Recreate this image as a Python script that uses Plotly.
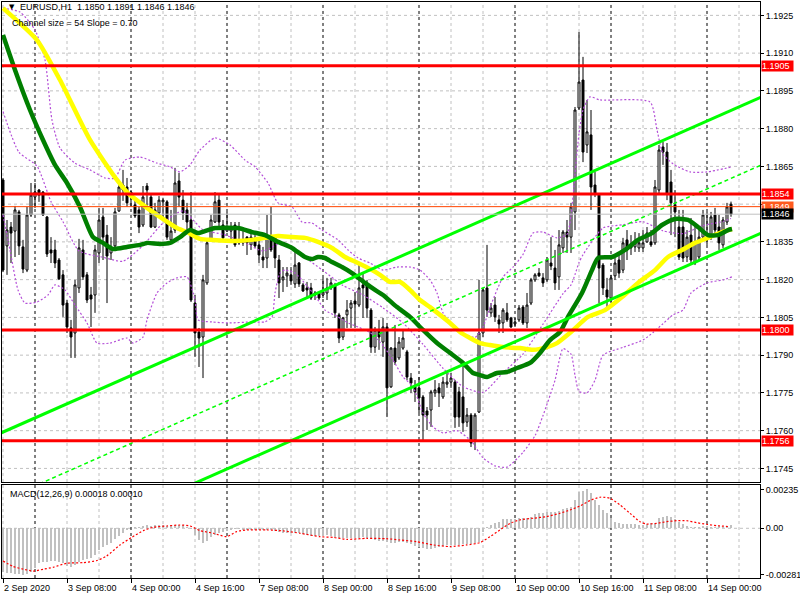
import plotly.graph_objects as go

# ---------------- data ----------------
bar_index = list(range(183))

opens = [1.18596,1.18334,1.18409,1.18393,1.18469,1.18330,1.18238,1.18457,1.18528,1.18556,
1.18548,1.18449,1.18318,1.18318,1.18278,1.18219,1.18107,1.18008,1.17988,1.18167,
1.18318,1.18219,1.18139,1.18139,1.18306,1.18449,1.18377,1.18306,1.18334,1.18473,
1.18576,1.18568,1.18532,1.18497,1.18477,1.18417,1.18572,1.18528,1.18409,1.18465,
1.18509,1.18509,1.18358,1.18397,1.18592,1.18516,1.18477,1.18437,1.18107,1.17992,
1.17972,1.18187,1.18358,1.18429,1.18516,1.18417,1.18393,1.18393,1.18417,1.18346,
1.18346,1.18369,1.18338,1.18362,1.18338,1.18290,1.18286,1.18369,1.18366,1.18278,
1.18199,1.18215,1.18219,1.18183,1.18266,1.18179,1.18167,1.18167,1.18147,1.18147,
1.18139,1.18147,1.18167,1.18179,1.18060,1.17972,1.18060,1.18087,1.18115,1.18099,
1.18179,1.18179,1.18079,1.17932,1.18000,1.17952,1.18012,1.17774,1.17928,1.17889,
1.17928,1.17913,1.17809,1.17774,1.17770,1.17734,1.17678,1.17682,1.17750,1.17770,
1.17734,1.17785,1.17793,1.17793,1.17754,1.17734,1.17634,1.17662,1.17563,1.17674,
1.17988,1.18167,1.18068,1.18099,1.18040,1.18028,1.18068,1.18048,1.18024,1.18040,
1.18091,1.18028,1.18107,1.18199,1.18226,1.18207,1.18199,1.18266,1.18246,1.18211,
1.18326,1.18389,1.18369,1.18469,1.18882,1.18993,1.18735,1.18775,1.18576,1.18536,
1.18258,1.18159,1.18127,1.18215,1.18278,1.18238,1.18358,1.18338,1.18330,1.18326,
1.18326,1.18350,1.18350,1.18346,1.18556,1.18727,1.18707,1.18588,1.18497,1.18409,
1.18409,1.18290,1.18377,1.18266,1.18290,1.18369,1.18358,1.18366,1.18457,1.18409,
1.18338,1.18429,1.18500]

highs = [1.18604,1.18437,1.18429,1.18493,1.18477,1.18358,1.18489,1.18584,1.18584,1.18560,
1.18552,1.18453,1.18369,1.18358,1.18286,1.18238,1.18119,1.18040,1.18199,1.18362,
1.18358,1.18230,1.18171,1.18338,1.18485,1.18485,1.18417,1.18369,1.18485,1.18596,
1.18636,1.18604,1.18556,1.18516,1.18489,1.18572,1.18584,1.18540,1.18505,1.18532,
1.18524,1.18516,1.18477,1.18644,1.18624,1.18556,1.18505,1.18548,1.18139,1.18008,
1.18219,1.18358,1.18457,1.18548,1.18536,1.18437,1.18469,1.18429,1.18429,1.18429,
1.18409,1.18373,1.18389,1.18377,1.18358,1.18330,1.18457,1.18489,1.18369,1.18298,
1.18250,1.18250,1.18250,1.18318,1.18270,1.18187,1.18191,1.18187,1.18155,1.18151,
1.18207,1.18207,1.18207,1.18187,1.18068,1.18052,1.18119,1.18119,1.18151,1.18266,
1.18226,1.18199,1.18087,1.18012,1.18040,1.18048,1.18028,1.17932,1.18020,1.17972,
1.18000,1.17921,1.17829,1.17801,1.17813,1.17742,1.17694,1.17762,1.17801,1.17789,
1.17813,1.17829,1.17829,1.17801,1.17774,1.17873,1.17690,1.17670,1.17670,1.18199,
1.18167,1.18338,1.18107,1.18131,1.18060,1.18087,1.18107,1.18052,1.18048,1.18099,
1.18099,1.18147,1.18207,1.18226,1.18246,1.18226,1.18290,1.18369,1.18318,1.18397,
1.18397,1.18437,1.18505,1.18886,1.19184,1.19085,1.18914,1.18874,1.18628,1.18544,
1.18266,1.18207,1.18219,1.18286,1.18306,1.18366,1.18397,1.18377,1.18389,1.18385,
1.18397,1.18409,1.18397,1.18596,1.18735,1.18747,1.18743,1.18636,1.18556,1.18477,
1.18477,1.18397,1.18445,1.18417,1.18397,1.18477,1.18469,1.18469,1.18485,1.18457,
1.18449,1.18505,1.18510]

lows = [1.18230,1.18219,1.18266,1.18290,1.18298,1.18226,1.18230,1.18449,1.18485,1.18509,
1.18453,1.18290,1.18266,1.18246,1.18199,1.18052,1.17988,1.17889,1.17889,1.18147,
1.18199,1.18107,1.18012,1.18068,1.18266,1.18278,1.18107,1.18278,1.18318,1.18469,
1.18513,1.18489,1.18489,1.18445,1.18385,1.18409,1.18489,1.18405,1.18405,1.18449,
1.18449,1.18358,1.18346,1.18385,1.18489,1.18437,1.18397,1.18111,1.17893,1.17853,
1.17809,1.18179,1.18350,1.18425,1.18405,1.18350,1.18389,1.18350,1.18330,1.18338,
1.18334,1.18298,1.18318,1.18326,1.18266,1.18246,1.18246,1.18310,1.18246,1.18127,
1.18151,1.18171,1.18179,1.18167,1.18171,1.18151,1.18131,1.18119,1.18119,1.18119,
1.18127,1.18119,1.18159,1.18048,1.17948,1.17960,1.18008,1.18008,1.18008,1.18091,
1.18048,1.18048,1.17909,1.17909,1.17921,1.17893,1.17654,1.17770,1.17861,1.17881,
1.17921,1.17801,1.17750,1.17714,1.17670,1.17563,1.17603,1.17615,1.17734,1.17694,
1.17726,1.17770,1.17770,1.17611,1.17615,1.17595,1.17615,1.17535,1.17523,1.17670,
1.17972,1.18052,1.18052,1.18032,1.17988,1.17988,1.18032,1.18008,1.18012,1.18032,
1.18020,1.18008,1.18099,1.18191,1.18211,1.18171,1.18191,1.18238,1.18159,1.18159,
1.18306,1.18306,1.18306,1.18397,1.18874,1.18667,1.18703,1.18477,1.18528,1.18107,
1.18139,1.18091,1.18107,1.18199,1.18207,1.18226,1.18278,1.18298,1.18310,1.18310,
1.18310,1.18346,1.18330,1.18338,1.18544,1.18656,1.18516,1.18377,1.18369,1.18278,
1.18270,1.18270,1.18266,1.18258,1.18278,1.18358,1.18338,1.18358,1.18377,1.18318,
1.18326,1.18417,1.18450]

closes = [1.18238,1.18397,1.18385,1.18477,1.18334,1.18242,1.18457,1.18536,1.18548,1.18536,
1.18457,1.18302,1.18306,1.18266,1.18203,1.18099,1.18012,1.17972,1.18179,1.18326,
1.18211,1.18119,1.18123,1.18318,1.18437,1.18369,1.18294,1.18326,1.18469,1.18568,
1.18556,1.18505,1.18548,1.18453,1.18409,1.18528,1.18556,1.18409,1.18477,1.18516,
1.18516,1.18369,1.18393,1.18584,1.18528,1.18465,1.18429,1.18119,1.17988,1.17968,
1.18199,1.18346,1.18437,1.18509,1.18429,1.18366,1.18405,1.18409,1.18338,1.18358,
1.18358,1.18346,1.18369,1.18334,1.18298,1.18278,1.18377,1.18318,1.18286,1.18187,
1.18211,1.18226,1.18195,1.18258,1.18183,1.18155,1.18159,1.18127,1.18139,1.18127,
1.18151,1.18167,1.18187,1.18068,1.17968,1.18048,1.18079,1.18107,1.18103,1.18167,
1.18167,1.18087,1.17932,1.18000,1.17972,1.18012,1.17770,1.17928,1.17873,1.17952,
1.17968,1.17813,1.17789,1.17754,1.17730,1.17662,1.17662,1.17754,1.17762,1.17750,
1.17793,1.17793,1.17809,1.17654,1.17654,1.17631,1.17662,1.17551,1.17662,1.17988,
1.18159,1.18079,1.18087,1.18052,1.18024,1.18079,1.18040,1.18012,1.18032,1.18087,
1.18028,1.18099,1.18199,1.18219,1.18215,1.18187,1.18278,1.18254,1.18187,1.18338,
1.18389,1.18369,1.18489,1.18874,1.18985,1.18707,1.18787,1.18568,1.18544,1.18246,
1.18167,1.18131,1.18207,1.18266,1.18226,1.18346,1.18318,1.18326,1.18346,1.18346,
1.18346,1.18385,1.18338,1.18568,1.18715,1.18707,1.18544,1.18505,1.18469,1.18290,
1.18286,1.18369,1.18278,1.18346,1.18369,1.18457,1.18369,1.18449,1.18397,1.18346,
1.18437,1.18489,1.18460]

yellow_x = [0,8.5,14.25,21.75,28.5,31.25,35,38.5,43.5,46,49.25,52.5,58,62.25,65.5,68.75,72.25,75.5,78.75,82.25,
85.5,88.75,92.25,94.25,96.75,99.25,101.75,104.25,106.75,109.25,111.75,114.25,116.75,119.25,121.75,125,129.25,132.5,136,138.5,
142,146.25,150.5,154.75,158.75,163,166.25,169.75,173,176.25,179.75,182.25]
yellow_ma = [1.19279,1.19152,1.18993,1.18755,1.18596,1.18544,1.18497,1.18457,1.18405,1.18389,
1.18362,1.18358,1.18354,1.18358,1.18366,1.18373,1.18369,1.18366,1.18350,1.18326,
1.18290,1.18266,1.18238,1.18219,1.18191,1.18191,1.18159,1.18119,1.18091,1.18060,
1.18028,1.17992,1.17968,1.17948,1.17940,1.17932,1.17928,1.17921,1.17932,1.17948,
1.17992,1.18052,1.18079,1.18131,1.18187,1.18238,1.18290,1.18318,1.18346,1.18366,
1.18389,1.18401]

green_x = [0,3,6.75,10,13,16,19.25,22.5,25,27.5,31,34.25,36,39.25,41.75,44.25,46.75,48.75,51.25,53,
58.75,62.25,65.5,68.75,72.25,75.5,77.25,78.75,80.5,82.25,84.75,87.25,90.5,93,95,98.5,101.75,105,108.5,111.75,
115,117.5,119.25,121,123.5,126,128.5,131.75,134.25,136.75,139.25,141.25,144.75,147.25,148.75,152.25,155.5,158.75,162.25,164.75,
168,171.25,173.75,176.25,178.75,181.25,182.25]
green_ma = [1.19172,1.19033,1.18874,1.18755,1.18656,1.18584,1.18489,1.18369,1.18346,1.18322,
1.18330,1.18338,1.18346,1.18342,1.18346,1.18369,1.18397,1.18385,1.18397,1.18405,
1.18405,1.18389,1.18377,1.18350,1.18326,1.18290,1.18282,1.18290,1.18286,1.18270,
1.18250,1.18226,1.18187,1.18159,1.18139,1.18091,1.18052,1.18000,1.17948,1.17909,
1.17869,1.17829,1.17821,1.17813,1.17829,1.17833,1.17849,1.17869,1.17909,1.17960,
1.17992,1.18052,1.18147,1.18238,1.18286,1.18290,1.18318,1.18358,1.18385,1.18417,
1.18441,1.18437,1.18409,1.18377,1.18377,1.18397,1.18401]

band_up_x = [0,4.25,8,10.5,12.25,14.25,18,21.75,25.5,28,30.5,34.25,38.5,41.75,44.25,46.75,49.25,53,56.75,60.5,
63,66.25,68.75,72.25,74.75,77.25,79.75,83.75,86.25,88.75,91.75,95,98.5,101.75,104.25,106.75,108.5,110,112.5,114.25,
116,118,120,122,125,127.5,130,132.5,135,138.5,141,142,143,144,145,146.75,149.25,161.75,163.5,165,
167.5,171.75,176,182.25]
band_up = [1.19279,1.19263,1.19192,1.19073,1.18834,1.18723,1.18663,1.18636,1.18604,1.18604,
1.18675,1.18687,1.18663,1.18648,1.18628,1.18656,1.18715,1.18763,1.18735,1.18675,
1.18648,1.18584,1.18505,1.18489,1.18429,1.18425,1.18397,1.18358,1.18318,1.18286,
1.18266,1.18238,1.18250,1.18250,1.18238,1.18199,1.18147,1.18068,1.18012,1.17988,
1.17980,1.17970,1.18012,1.18100,1.18210,1.18250,1.18300,1.18385,1.18389,1.18366,
1.18380,1.18454,1.18620,1.18780,1.18874,1.18926,1.18914,1.18906,1.18795,1.18700,
1.18660,1.18628,1.18628,1.18648]

band_mid_x = [0,4,8.5,12,15,19,25,30,35,40,45,50,55,60,65,70,75,80,85,90,
95,100,105,110,115,120,125,130,135,140,142,143,144,145,150,155,160,165,170,175,180,182]
band_mid = [1.18868,1.18706,1.18651,1.18510,1.18430,1.18314,1.18289,1.18273,1.18336,1.18425,
1.18473,1.18398,1.18380,1.18350,1.18314,1.18348,1.18294,1.18236,1.18177,1.18139,
1.18088,1.18028,1.17943,1.17848,1.17775,1.17752,1.17830,1.17904,1.18023,1.18144,
1.18179,1.18220,1.18268,1.18299,1.18405,1.18418,1.18430,1.18394,1.18383,1.18415,
1.18431,1.18443]

band_lo_x = [0,1.75,3.75,5.5,8.5,11.25,13,15.5,18,21,23.5,26.75,31,32.5,35,36,38.5,41,43.5,46,
48,48.75,52.25,56.25,62.25,65.5,67.25,68,69.25,70.5,73,76.25,78.75,80.5,83.75,86.25,88.75,91.75,95,97.5,
100,102.5,105,107.5,110,113.5,117,120,123,126,130,133,135,138,140,142,143,144,146,148,
150,155,160,162.5,165,167.5,170,172,176,180,182.25]
band_lo = [1.18457,1.18318,1.18159,1.18107,1.18111,1.18139,1.18179,1.18159,1.18099,1.18028,
1.17948,1.17948,1.17968,1.17948,1.17972,1.18040,1.18147,1.18187,1.18207,1.18211,
1.18119,1.18040,1.18032,1.18028,1.18032,1.18032,1.18052,1.18147,1.18226,1.18238,
1.18226,1.18171,1.18119,1.18079,1.18052,1.18028,1.18012,1.17990,1.17938,1.17881,
1.17814,1.17774,1.17670,1.17615,1.17591,1.17600,1.17560,1.17492,1.17460,1.17455,
1.17514,1.17580,1.17660,1.17800,1.17926,1.17904,1.17820,1.17756,1.17750,1.17800,
1.17900,1.17931,1.17960,1.17990,1.18025,1.18060,1.18079,1.18147,1.18187,1.18199,
1.18211]

channel_x = [-0.5, 189.5]
channel_upper = [1.17591, 1.18925]
channel_middle = [1.17321, 1.18655]
channel_lower = [1.17051, 1.18385]

levels = [1.1905, 1.1854, 1.1800, 1.1756]
level_labels = ["1.1905", "1.1854", "1.1800", "1.1756"]
ask_price, ask_label = 1.1849, "1.1849"
bid_price, bid_label = 1.1846, "1.1846"

price_ticks = [1.1745,1.1760,1.1775,1.1790,1.1805,1.1820,1.1835,1.1850,1.1865,1.1880,1.1895,1.1910,1.1925]
price_tick_labels = ["1.1745","1.1760","1.1775","1.1790","1.1805","1.1820","1.1835","","1.1865","1.1880","1.1895","1.1910","1.1925"]

macd_hist = [-0.00263,-0.00269,-0.00273,-0.00277,-0.00279,-0.00281,-0.00277,-0.00263,-0.00242,-0.00212,
-0.00202,-0.00202,-0.00200,-0.00200,-0.00202,-0.00208,-0.00228,-0.00236,-0.00222,-0.00202,
-0.00192,-0.00188,-0.00182,-0.00162,-0.00131,-0.00111,-0.00101,-0.00087,-0.00067,-0.00046,
-0.00026,-0.00010,0.00000,0.00006,0.00010,0.00014,0.00018,0.00016,0.00018,0.00020,
0.00018,0.00016,0.00018,0.00022,0.00022,0.00018,0.00010,-0.00006,-0.00040,-0.00071,
-0.00087,-0.00075,-0.00055,-0.00040,-0.00030,-0.00020,-0.00014,-0.00010,-0.00006,-0.00006,
-0.00008,-0.00008,-0.00010,-0.00010,-0.00012,-0.00012,-0.00010,-0.00012,-0.00016,-0.00024,
-0.00026,-0.00028,-0.00028,-0.00026,-0.00030,-0.00034,-0.00040,-0.00044,-0.00044,-0.00046,
-0.00044,-0.00042,-0.00044,-0.00050,-0.00058,-0.00060,-0.00058,-0.00056,-0.00058,-0.00056,
-0.00054,-0.00058,-0.00064,-0.00070,-0.00076,-0.00080,-0.00083,-0.00087,-0.00091,-0.00081,
-0.00081,-0.00089,-0.00097,-0.00105,-0.00111,-0.00121,-0.00127,-0.00125,-0.00119,-0.00115,
-0.00107,-0.00103,-0.00099,-0.00101,-0.00099,-0.00095,-0.00093,-0.00093,-0.00087,-0.00081,
-0.00020,0.00010,0.00020,0.00034,0.00040,0.00055,0.00055,0.00055,0.00057,0.00061,
0.00061,0.00065,0.00071,0.00085,0.00091,0.00095,0.00101,0.00101,0.00097,0.00107,
0.00115,0.00121,0.00131,0.00172,0.00218,0.00228,0.00235,0.00212,0.00172,0.00141,
0.00111,0.00091,0.00061,0.00040,0.00034,0.00026,0.00026,0.00026,0.00026,0.00020,
0.00020,0.00024,0.00030,0.00034,0.00061,0.00071,0.00075,0.00071,0.00055,0.00040,
0.00026,0.00014,0.00006,0.00006,0.00010,0.00014,0.00014,0.00010,0.00010,0.00014,
0.00010,0.00016,0.00018]

signal_x = [0,2.6,5.1,7.6,10.1,12.6,15.9,20.1,23.4,25.9,29.25,32.2,35.1,37.6,40.9,44.25,46.75,49.25,52.6,55.9,
58.4,60.9,65.9,70.1,74.25,79.25,82.6,85.9,90.9,95.9,99.25,103.4,107.6,111.75,115.9,119.25,121.75,124.25,126.75,129.25,
132.6,135.9,139.25,141.75,144.25,146.75,149.25,151.75,154.25,156.75,159.25,160.9,163.4,165.9,168.4,170.9,173.4,175.9,178.4,181.75]
macd_signal = [-0.00198,-0.00232,-0.00248,-0.00259,-0.00248,-0.00236,-0.00212,-0.00208,-0.00196,-0.00168,
-0.00101,-0.00055,-0.00014,0.00006,0.00014,0.00020,0.00014,-0.00014,-0.00030,-0.00051,
-0.00020,-0.00010,-0.00010,-0.00016,-0.00030,-0.00051,-0.00055,-0.00067,-0.00061,-0.00063,
-0.00071,-0.00081,-0.00101,-0.00111,-0.00101,-0.00087,-0.00051,-0.00010,0.00030,0.00051,
0.00061,0.00071,0.00091,0.00111,0.00135,0.00168,0.00188,0.00182,0.00141,0.00091,
0.00040,0.00026,0.00030,0.00040,0.00046,0.00046,0.00034,0.00024,0.00016,0.00010]

macd_ticks = [0.00235, 0.0, -0.00281]
macd_tick_labels = ["0.00235", "0.00", "-0.00281"]

time_tick_pos = [0,16,32,48,64,80,96,112,128,144,160,176]
time_tick_labels = ["2 Sep 2020","3 Sep 08:00","4 Sep 00:00","4 Sep 16:00","7 Sep 08:00","8 Sep 00:00",
                    "8 Sep 16:00","9 Sep 08:00","10 Sep 00:00","10 Sep 16:00","11 Sep 08:00","14 Sep 00:00"]
grid_pos = [0,8,16,24,32,40,48,56,64,72,80,88,96,104,112,120,128,136,144,152,160,168,176,184]
day_separators = [8,32,56,80,104,128,152,176]

title_text = "EURUSD,H1  1.1850 1.1891 1.1846 1.1846"
channel_text = "Channel size = 54 Slope = 0.70"
macd_text = "MACD(12,26,9) 0.00018 0.00010"

# ---------------- figure ----------------
FONT = "Liberation Sans, Arial, sans-serif"
FS = 9
MAIN_DOM = [0.1667, 1.0]
MACD_DOM = [0.0, 0.1615]

fig = go.Figure()

def line_trace(xs, ys, color, width, dash="solid", shape="linear", axis=("x", "y")):
    return go.Scatter(x=xs, y=ys, mode="lines", xaxis=axis[0], yaxis=axis[1],
                      line=dict(color=color, width=width, dash=dash, shape=shape, smoothing=0.6),
                      hoverinfo="skip", showlegend=False)

purple = "#B44FD8"
for xs, ys in [(band_up_x, band_up), (band_mid_x, band_mid), (band_lo_x, band_lo)]:
    fig.add_trace(line_trace(xs, ys, purple, 1.2, dash="2px,2px", shape="spline"))

fig.add_trace(line_trace(yellow_x, yellow_ma, "#FFFF00", 4.5, shape="spline"))
fig.add_trace(line_trace(green_x, green_ma, "#007F00", 4.5, shape="spline"))

fig.add_trace(go.Candlestick(
    x=bar_index, open=opens, high=highs, low=lows, close=closes,
    xaxis="x", yaxis="y", whiskerwidth=0,
    increasing=dict(line=dict(color="black", width=1), fillcolor="white"),
    decreasing=dict(line=dict(color="black", width=1), fillcolor="black"),
    hoverinfo="skip", showlegend=False))

lime = "#00FF00"
fig.add_trace(line_trace(channel_x, channel_upper, lime, 3))
fig.add_trace(line_trace(channel_x, channel_lower, lime, 3))
fig.add_trace(line_trace(channel_x, channel_middle, lime, 1.5, dash="4px,3px"))

fig.add_trace(go.Bar(x=bar_index, y=macd_hist, xaxis="x2", yaxis="y2", width=0.55,
                     marker=dict(color="#C0C0C0", line=dict(width=0)),
                     hoverinfo="skip", showlegend=False))
fig.add_trace(line_trace(signal_x, macd_signal, "#FF0000", 1.2, dash="2px,2px", shape="spline", axis=("x2", "y2")))

shapes = []
for p in price_ticks:
    shapes.append(dict(type="line", xref="x domain", yref="y", x0=0, x1=1, y0=p, y1=p,
                       line=dict(color="#C0C0C0", width=1, dash="3px,3px"), layer="below"))
shapes.append(dict(type="line", xref="x2 domain", yref="y2", x0=0, x1=1, y0=0, y1=0,
                   line=dict(color="#C0C0C0", width=1, dash="3px,3px"), layer="below"))
for g in grid_pos:
    is_day = g in day_separators
    col = "#000000" if is_day else "#C0C0C0"
    for yr in ["y domain", "y2 domain"]:
        shapes.append(dict(type="line", xref="x", yref=yr, x0=g, x1=g, y0=0, y1=1,
                           line=dict(color=col, width=1, dash="3px,3px"), layer="below"))
for lv in levels:
    shapes.append(dict(type="line", xref="x domain", yref="y", x0=0, x1=1, y0=lv, y1=lv,
                       line=dict(color="#FF0000", width=3), layer="above"))
shapes.append(dict(type="line", xref="x domain", yref="y", x0=0, x1=1, y0=ask_price, y1=ask_price,
                   line=dict(color="#FF4500", width=1), layer="above"))
shapes.append(dict(type="line", xref="x domain", yref="y", x0=0, x1=1, y0=bid_price, y1=bid_price,
                   line=dict(color="#C0C0C0", width=1), layer="above"))

annotations = []
def price_box(y, text, bg):
    annotations.append(dict(xref="paper", yref="y", x=1, y=y, xanchor="left", yanchor="middle",
                            xshift=1, text=text, showarrow=False, bgcolor=bg,
                            font=dict(family=FONT, size=FS, color="white"),
                            width=31, height=10, borderpad=0, align="left"))
for lv, lb in zip(levels, level_labels):
    price_box(lv, lb, "#FF0000")
price_box(ask_price, ask_label, "#FF5A1E")
price_box(bid_price, bid_label, "#000000")

for pos, lab in zip(time_tick_pos, time_tick_labels):
    annotations.append(dict(xref="x2", yref="paper", x=pos, y=0, xanchor="left", yanchor="middle",
                            xshift=-1, yshift=-10, text=lab, showarrow=False,
                            font=dict(family=FONT, size=FS, color="black")))

annotations.append(dict(xref="paper", yref="paper", x=0.006, y=0.9905, xanchor="left", yanchor="middle",
                        text="▼", showarrow=False, font=dict(family="DejaVu Sans", size=7, color="black")))
annotations.append(dict(xref="paper", yref="paper", x=0.021, y=0.9905, xanchor="left", yanchor="middle",
                        text=title_text, showarrow=False, font=dict(family=FONT, size=FS, color="black")))
annotations.append(dict(xref="paper", yref="paper", x=0.0105, y=0.964, xanchor="left", yanchor="middle",
                        text=channel_text, showarrow=False, font=dict(family=FONT, size=FS, color="black")))
annotations.append(dict(xref="paper", yref="paper", x=0.008, y=0.146, xanchor="left", yanchor="middle",
                        text=macd_text, showarrow=False, font=dict(family=FONT, size=FS, color="black")))

axis_common = dict(showline=True, linecolor="black", linewidth=1, mirror=True,
                   showgrid=False, zeroline=False, automargin=False)

fig.update_layout(
    width=800, height=600,
    margin=dict(l=2, r=40, t=2, b=22, pad=0),
    paper_bgcolor="white", plot_bgcolor="white",
    showlegend=False, bargap=0,
    font=dict(family=FONT, size=FS, color="black"),
    xaxis=dict(domain=[0, 1], range=[-0.25, 189.25], anchor="y", showticklabels=False,
               ticks="", rangeslider=dict(visible=False), **axis_common),
    xaxis2=dict(domain=[0, 1], range=[-0.25, 189.25], anchor="y2", matches="x",
                tickmode="array", tickvals=time_tick_pos, ticks="outside", ticklen=4,
                tickcolor="black", showticklabels=False, **axis_common),
    yaxis=dict(domain=MAIN_DOM, range=[1.173961, 1.193031], anchor="x", side="right",
               tickmode="array", tickvals=price_ticks, ticktext=price_tick_labels,
               ticks="outside", ticklen=3, tickcolor="black",
               tickfont=dict(family=FONT, size=FS, color="black"), **axis_common),
    yaxis2=dict(domain=MACD_DOM, range=[-0.003012, 0.002624], anchor="x2", side="right",
                tickmode="array", tickvals=macd_ticks, ticktext=macd_tick_labels,
                ticks="outside", ticklen=3, tickcolor="black",
                tickfont=dict(family=FONT, size=FS, color="black"), **axis_common),
    shapes=shapes, annotations=annotations,
)

fig.write_html("out.html",
               config={"displayModeBar": False, "staticPlot": True},
               post_script="document.body.style.margin='0';document.body.style.padding='0';")
